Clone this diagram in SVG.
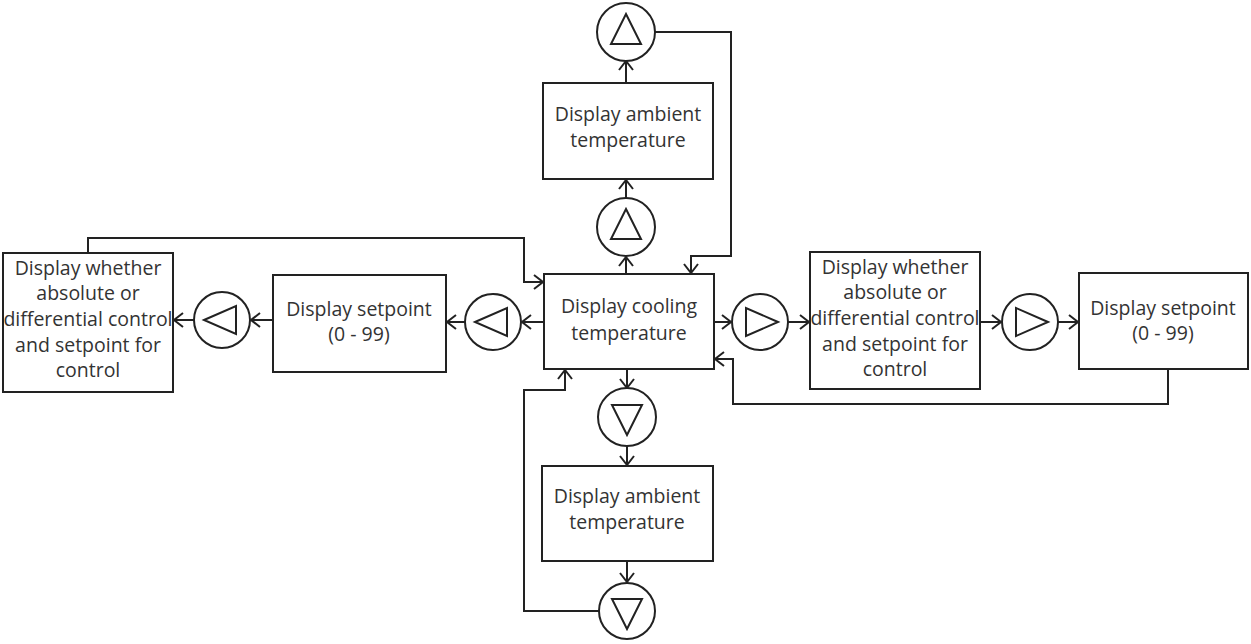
<svg xmlns="http://www.w3.org/2000/svg" width="1251" height="644" viewBox="0 0 1251 644">
<style>
.box{fill:#fff;stroke:#222;stroke-width:2}
.c{fill:#fff;stroke:#222;stroke-width:2}
.tri{fill:none;stroke:#222;stroke-width:2;stroke-linejoin:miter}
.ln{fill:none;stroke:#222;stroke-width:2}
text{font-family:"Open Sans","DejaVu Sans",sans-serif;font-size:19.5px;fill:#333;text-anchor:middle}
</style>
<defs>
<marker id="a" viewBox="0 0 12 16" refX="11" refY="8" markerWidth="12" markerHeight="16" markerUnits="userSpaceOnUse" orient="auto">
<path d="M2,1 L11,8 L2,15" fill="none" stroke="#222" stroke-width="2"/>
</marker>
<g id="up"><path class="tri" d="M0,-18 L15,12 L-15,12 Z"/></g>
<g id="down"><path class="tri" d="M0,18 L15,-12 L-15,-12 Z"/></g>
<g id="left"><path class="tri" d="M-18,0 L14,-14 L14,14 Z"/></g>
<g id="right"><path class="tri" d="M18,0 L-14,-14 L-14,14 Z"/></g>
</defs>
<g id="connectors">
<line class="ln" x1="626" y1="83" x2="626" y2="61" marker-end="url(#a)"/>
<line class="ln" x1="626" y1="198" x2="626" y2="180" marker-end="url(#a)"/>
<line class="ln" x1="626" y1="274" x2="626" y2="257" marker-end="url(#a)"/>
<polyline class="ln" points="655,32 731,32 731,256 691,256 691,273" marker-end="url(#a)"/>
<line class="ln" x1="544" y1="322" x2="522" y2="322" marker-end="url(#a)"/>
<line class="ln" x1="465" y1="322" x2="447" y2="322" marker-end="url(#a)"/>
<line class="ln" x1="273" y1="320" x2="251" y2="320" marker-end="url(#a)"/>
<line class="ln" x1="194" y1="320" x2="174" y2="320" marker-end="url(#a)"/>
<polyline class="ln" points="88,253 88,238 524,238 524,282 543,282" marker-end="url(#a)"/>
<line class="ln" x1="714" y1="322" x2="731" y2="322" marker-end="url(#a)"/>
<line class="ln" x1="788" y1="322" x2="809" y2="322" marker-end="url(#a)"/>
<line class="ln" x1="980" y1="322" x2="1001" y2="322" marker-end="url(#a)"/>
<line class="ln" x1="1058" y1="322" x2="1078" y2="322" marker-end="url(#a)"/>
<polyline class="ln" points="1168,369 1168,404 733,404 733,359 715,359" marker-end="url(#a)"/>
<line class="ln" x1="627" y1="369" x2="627" y2="388" marker-end="url(#a)"/>
<line class="ln" x1="627" y1="446" x2="627" y2="465" marker-end="url(#a)"/>
<line class="ln" x1="627" y1="561" x2="627" y2="582" marker-end="url(#a)"/>
<polyline class="ln" points="599,611 524,611 524,390 565,390 565,370" marker-end="url(#a)"/>
</g>
<g id="up-circle-top"><circle class="c" cx="626" cy="32" r="29"/><use href="#up" x="626" y="32"/></g>
<g id="ambient-top"><rect class="box" x="543" y="83" width="170" height="96"/><text x="628" y="121">Display ambient</text><text x="628" y="147">temperature</text></g>
<g id="up-circle"><circle class="c" cx="626" cy="227" r="29"/><use href="#up" x="626" y="227"/></g>
<g id="cooling"><rect class="box" x="544" y="274" width="170" height="95"/><text x="629" y="313">Display cooling</text><text x="629" y="340">temperature</text></g>
<g id="left-circle"><circle class="c" cx="493" cy="322" r="28"/><use href="#left" x="493" y="322"/></g>
<g id="setpoint-left"><rect class="box" x="273" y="275" width="173" height="97"/><text x="359" y="316">Display setpoint</text><text x="359" y="341">(0 - 99)</text></g>
<g id="left-circle-2"><circle class="c" cx="222" cy="320" r="28"/><use href="#left" x="222" y="320"/></g>
<g id="mode-left"><rect class="box" x="3" y="253" width="170" height="139"/><text x="88" y="275">Display whether</text><text x="88" y="300">absolute or</text><text x="88" y="326">differential control</text><text x="88" y="352">and setpoint for</text><text x="88" y="377">control</text></g>
<g id="right-circle"><circle class="c" cx="760" cy="322" r="28"/><use href="#right" x="760" y="322"/></g>
<g id="mode-right"><rect class="box" x="810" y="252" width="170" height="137"/><text x="895" y="274">Display whether</text><text x="895" y="299">absolute or</text><text x="895" y="325">differential control</text><text x="895" y="351">and setpoint for</text><text x="895" y="376">control</text></g>
<g id="right-circle-2"><circle class="c" cx="1030" cy="322" r="28"/><use href="#right" x="1030" y="322"/></g>
<g id="setpoint-right"><rect class="box" x="1079" y="273" width="169" height="96"/><text x="1163" y="315">Display setpoint</text><text x="1163" y="340">(0 - 99)</text></g>
<g id="down-circle"><circle class="c" cx="627" cy="417" r="29"/><use href="#down" x="627" y="417"/></g>
<g id="ambient-bottom"><rect class="box" x="542" y="466" width="171" height="95"/><text x="627" y="503">Display ambient</text><text x="627" y="529">temperature</text></g>
<g id="down-circle-2"><circle class="c" cx="627" cy="611" r="28"/><use href="#down" x="627" y="611"/></g>
</svg>
